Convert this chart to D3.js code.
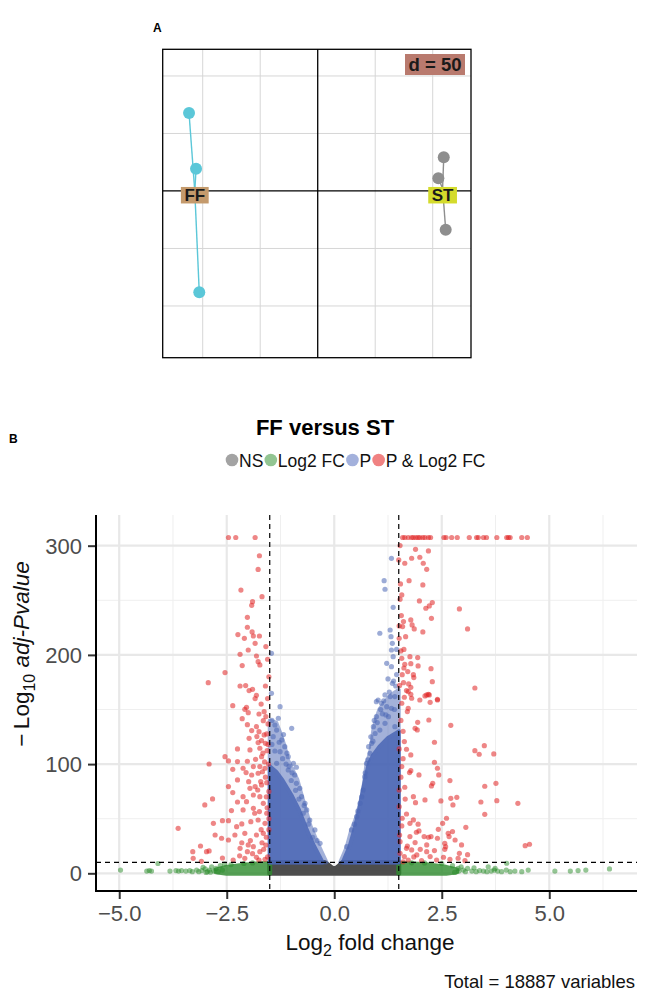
<!DOCTYPE html>
<html><head><meta charset="utf-8">
<script src="https://cdn.jsdelivr.net/npm/d3@7"></script>
<style>body{margin:0;background:#fff}svg{display:block;font-family:"Liberation Sans",Arial,Helvetica,sans-serif}</style>
</head><body><svg id="c" width="645" height="995"></svg>
<script>
// ---------- Panel A data (PCA class plot) ----------
const groupNames = ["FF", "ST"];
const ffX = [-111.9, -105.8, -103.0];
const ffY = [67.8, 19.4, -88.1];
const stX = [109.6, 104.9, 111.3];
const stY = [29.3, 11.0, -33.7];
const gridStep = 50;
const gridLabel = "d = 50";

// ---------- Panel B data (volcano) ----------
const plotTitle = "FF versus ST";
const legendLabels = ["NS", "Log2 FC", "P", "P & Log2 FC"];
const xTicks = [-5.0, -2.5, 0.0, 2.5, 5.0];
const yTicks = [0, 100, 200, 300];
const fcCutoff = 1.5;
const pCutoff = 10;
const capValue = 307.5;
const totalVars = 18887;

const redCapX = [-2.46,-2.29,-1.84,1.59,1.64,1.72,1.80,1.84,1.90,1.95,1.99,2.06,2.11,2.19,2.24,2.55,2.60,2.73,2.86,3.14,3.31,3.35,3.47,3.54,3.78,4.01,4.05,4.09,4.36,4.49];

const redLeft = [[-1.74,290.8],[-1.77,278.3],[-2.17,259.4],[-1.68,253.3],[-1.90,248.7],[-1.92,245.4],
[-2.02,234.4],[-2.24,218.6],[-2.02,225.3],[-1.91,221],[-1.88,217.3],[-2.09,215.2],[-1.74,217.3],[-1.84,210.6],[-2.0,204.5],[-1.59,207.6],[-2.19,200.5],[-1.81,199],[-1.55,196],[-1.77,193.8],[-1.73,190.8],[-2.14,190.2],[-2.54,183.8],[-2.93,174.6],[-2.19,171.5],[-2.06,171.9],[-1.98,167.3],[-1.90,168.5],[-1.81,163],[-1.60,171.5],[-1.84,160],[-2.36,153.5],[-2.04,152],[-2.08,150.2],[-2.0,147.1],[-1.75,145.9],[-1.63,148],[-2.14,141.6],[-1.59,143.5],[-1.65,139.8],[-1.54,136.8],[-2.02,136.1],[-1.81,134.3],[-1.92,130.7],[-1.75,129.7],[-1.63,126.7],[-1.57,127.6],[-1.80,125.2],[-1.98,123.6],[-1.69,121.5],[-1.77,119.7],[-1.60,119],[-2.25,113.9],[-1.96,113],[-1.73,114.5],[-1.56,112.3],[-2.54,106.8],[-2.46,102.9],[-2.25,102.3],[-2.02,102.6],[-1.83,104.4],[-1.69,106.8],[-2.91,100.1],[-2.12,96.2],[-1.88,97.7],[-1.73,97.7],[-1.61,96.2],[-2.36,95.2],[-2.05,92.2],[-1.92,90],[-1.77,91.6],[-2.25,85.5],[-1.99,83.9],[-1.84,79.4],[-1.69,80.9],[-1.57,83],[-2.46,79.4],[-1.96,77.8],[-1.78,76.3],[-2.36,73.9],[-2.12,70.2],[-1.88,71.7],[-1.73,70.2],[-2.83,68.1],[-3.01,62.6],[-2.25,65.3],[-2.04,65.6],[-1.65,64.1],[-2.39,57.4],[-2.12,58],[-1.88,59.5],[-1.74,56.5],[-1.57,55],[-2.81,45.8],[-2.60,48.2],[-2.46,48.2],[-2.27,42.7],[-2.15,45.2],[-1.94,47.3],[-1.77,48.8],[-1.61,45.8],[-3.63,41.2],[-2.77,35.1],[-2.62,32.1],[-2.46,30.5],[-2.31,35.1],[-2.08,36.6],[-1.81,35.1],[-1.65,36.6],[-3.11,25],[-2.91,20.5],[-3.29,19.8],[-2.19,22.9],[-2.02,19.8],[-1.88,24.4],[-1.73,19.8],[-1.59,25.9],[-3.28,13.7],[-2.35,12.2],[-2.08,13.7],[-1.81,14.6],[-1.61,12.8],
[-1.55,15],[-1.68,28],[-1.95,30],[-2.2,16],[-1.7,40],[-1.9,18],[-2.0,26],[-1.58,33],[-1.64,22],[-2.6,14],[-2.97,19.8],[-3.09,11],[-1.75,12],[-2.15,28],[-1.52,50],[-1.52,75],[-1.53,100],[-1.55,160],[-1.52,180],[-1.56,60],[-1.6,88],[-1.66,110],[-1.7,155],[-1.62,102],[-1.67,93],[-1.58,70],[-1.85,55],[-1.52,40],[-1.54,118],[-1.71,84]];

const redRight = [[1.53,300.1],[1.89,296.7],[2.19,295.2],[1.50,287],[1.80,288.5],[1.99,289.4],[1.64,283.9],[2.07,283.9],[2.15,278.4],[1.74,268],[2.06,264.1],[1.57,254.9],[1.53,250.9],[1.98,249.4],[2.28,247.9],[2.21,244.8],[2.13,242.7],[2.91,242.1],[2.26,233.5],[1.78,232],[1.61,230.5],[1.51,226.5],[1.59,225.9],[1.81,227.4],[1.86,223.8],[2.06,221],[3.10,223.8],[1.66,216.7],[1.51,215.2],[1.55,203.6],[1.76,198.4],[1.94,197.5],[1.57,196.9],[1.64,191.4],[1.78,192],[1.95,189.9],[2.25,187.4],[1.71,184.7],[1.84,181.9],[1.58,181.9],[1.85,179.2],[2.28,175.5],[1.61,174.6],[1.73,173.4],[1.78,170.3],[3.27,169.7],[1.68,167.3],[2.19,163.9],[2.11,162.4],[1.78,163.9],[2.40,159.4],
[1.72,166.4],[1.63,161.2],[1.80,160.3],[1.99,158.7],[2.15,163.3],[2.21,163.3],[2.40,158.7],[2.23,156.6],[1.57,155.7],[1.72,151.1],[1.70,148.1],[1.94,138.3],[2.20,140.4],[1.88,132.8],[1.93,131.3],[2.71,135.5],[1.63,120.6],[1.51,113.9],[1.68,113.6],[1.78,108.4],[2.33,120],[3.27,112.3],[3.37,109],[3.49,116.9],[3.71,109.3],[2.33,101.7],[1.57,97.7],[2.40,96.2],[1.78,94],[1.75,92.2],[1.97,90.1],[2.43,90.1],[2.69,84.9],[2.29,82.4],[2.26,80],[3.50,79.7],[3.76,82.4],[1.64,78.8],[1.51,76.3],[1.84,70.2],[2.11,67.2],[1.89,64.7],[2.48,66.3],[2.71,68.7],[2.85,69.6],[2.76,62.6],[3.41,65.3],[3.78,66.5],[4.27,64.1],[3.50,54],[1.51,61],[1.68,54.3],[1.58,50.4],[1.84,48.9],[1.76,45.8],[2.61,50.4],[2.52,45.8],[3.06,42.1],[2.42,40.3],[1.57,43.4],[1.91,37.6],[1.97,38.8],[1.76,33.6],[2.09,33.6],[2.19,33],[2.25,33.6],[2.40,32.1],[2.65,36.6],[2.75,38.2],[2.67,33.6],[2.81,30.5],[1.53,29],[1.88,28.1],[2.15,26],[2.57,27.5],[2.59,24.4],[2.96,26],[4.44,25.3],[4.54,26.6],[1.68,22.9],[1.80,21.4],[2.15,19.8],[2.33,20.8],[2.57,22],[2.91,18.3],[1.53,18.3],[1.63,15.3],[1.92,16.8],[2.23,15.3],[2.54,14.7],[2.69,12.8],[2.88,13.8],[3.10,17.1],[1.72,12.2],[2.03,11.6],[2.38,12.2],[3.04,11.6],
[1.55,140],[1.6,130],[1.52,172],[1.56,236],[1.62,205],[1.54,265],[1.6,105],[1.55,88],[1.65,68],[1.52,35],[1.7,25],[1.6,10.5],[1.85,15],[2.0,22],[1.95,45],[1.62,188]];

const blueLeft = [[-1.46,201.4],[-1.46,164.8],[-1.26,152.6],[-0.99,132.8],[-0.88,97.1],[-1.38,135.8],[-1.34,131.2],[-1.42,125.1],[-1.22,122.1],[-1.15,116],[-1.26,111.4],[-1.07,106.8],[-0.95,100.7],[-1.34,100.7],[-1.07,94.6],[-0.88,82.4],[-0.80,77.8],[-0.76,70.2],[-0.68,64.1],[-0.64,58],[-0.57,48.8],[-0.45,39.7],[-0.33,27.5],[-1.45,140],[-1.3,142],[-1.18,127],[-1.45,118],[-1.1,110],[-0.92,90],[-1.0,85],
[-1.2,105],[-1.05,98],[-0.9,76],[-0.72,55],[-0.6,45],[-0.5,33],[-1.38,112],[-1.28,120],[-0.82,68],[-0.98,92],[-1.12,100],[-0.7,62],[-0.4,30]];

const blueRight = [[1.33,288.4],[1.16,268],[1.18,260.1],[1.37,243.6],[1.06,219.8],[1.30,222.8],[1.32,216.7],[1.35,210.6],[1.33,204.5],[1.37,198.4],[1.22,192.3],[1.33,189.2],[1.35,174],[1.43,171.5],[1.18,163.3],[1.02,158.7],[0.98,157.2],[1.10,155.7],[1.30,161.8],[1.41,161.8],[1.22,152.6],[1.33,151.1],[1.26,143.4],[1.18,137.3],[0.98,143.4],[0.91,134.3],[1.06,131.2],[1.41,134.3],[0.87,119],[0.83,109.9],[0.75,100.7],[0.71,88.5],[0.67,76.3],[0.60,64.1],[0.52,51.9],[0.40,39.7],[0.29,24.4],[1.45,182],[1.4,150],[1.12,146],[0.95,128],[1.25,178],[0.8,116],[1.45,205],
[0.85,125],[0.93,140],[1.08,150],[1.15,158],[1.28,166],[1.38,176],[0.78,104],[0.72,92],[0.64,70],[0.55,57],[0.47,45],[1.0,138],[1.2,145],[0.9,121]];

// density envelopes of the dense clouds
const blueLeftOuter = [[-1.5,10],[-1.5,140],[-1.35,138],[-1.25,128],[-1.15,116],[-1.08,104],[-0.86,86],[-0.76,72],[-0.55,43],[-0.38,27],[-0.18,10]];
const blueLeftCore = [[-1.5,10],[-1.5,98],[-1.35,93],[-1.2,85],[-1.0,72],[-0.82,58],[-0.64,40],[-0.47,25],[-0.27,10]];
const blueRightOuter = [[0.14,10],[0.29,24],[0.40,40],[0.52,52],[0.60,64],[0.67,76],[0.71,88],[0.75,100],[0.83,110],[0.87,119],[0.91,132],[0.98,142],[1.05,150],[1.2,158],[1.35,164],[1.5,168],[1.5,10]];
const blueRightCore = [[0.2,10],[0.36,25],[0.48,42],[0.58,58],[0.66,75],[0.73,88],[0.8,100],[0.9,108],[1.05,116],[1.25,124],[1.5,130],[1.5,10]];
const greyBand = [[-1.5,0],[1.5,0],[1.5,10],[0.2,10],[0.12,7],[0.04,4.5],[-0.04,4.5],[-0.12,7],[-0.22,10],[-1.5,10]];
const greenLeftBand = [[-2.75,1.5],[-2.5,0],[-1.5,0],[-1.5,9],[-1.8,8.5],[-2.2,7],[-2.55,5],[-2.75,3]];
const greenRightBand = [[1.5,0],[2.6,0],[2.85,1.5],[2.85,3],[2.6,5.5],[2.1,8],[1.5,9]];
const greenPts = [[-4.97,3],[-4.36,2],[-4.30,2.5],[-4.25,2],[-4.1,9],[-3.82,2],[-3.68,2.5],[-3.62,2],[-3.55,2.5],[-3.45,2],[-3.36,2.5],[-3.3,1.5],[-3.2,3],[-3.15,1.5],[-3.08,2.5],[-3.0,4],[-2.95,1.5],[-2.9,3],[-2.85,6],[-2.8,2],[-2.75,4.5],[-2.7,1.5],[-2.65,7],[-2.6,3],[-2.55,8.5],[-2.4,8],[-2.1,9],[-1.9,9.5],[-3.05,5.5],[-2.98,0.8],[-2.88,1],
[2.9,2],[2.95,6],[3.0,3],[3.05,1.5],[3.1,4.5],[3.2,2],[3.25,5],[3.3,1.5],[3.38,2.5],[3.47,2],[3.55,1.5],[3.58,6],[3.65,2],[3.72,3],[3.74,4.5],[3.8,2],[3.89,1.5],[4.0,3],[4.01,9.2],[4.09,1.5],[4.2,2],[4.36,1.5],[4.51,3],[5.13,2],[5.49,2],[5.67,2.5],[5.85,3],[6.40,4],[2.5,9],[2.1,9.5],[1.8,9.6],[2.75,7],[2.88,4.5],[2.8,0.8]];

// ---------- drawing ----------
const svg = d3.select("#c");
const font = '"Liberation Sans",Arial,Helvetica,sans-serif';

// ===== Panel A =====
const ax = d3.scaleLinear().domain([-134.8, 133.3]).range([162.7, 471]);
const ay = d3.scaleLinear().domain([-145, 123.2]).range([357.7, 49.3]);
const gA = svg.append("g");
svg.append("text").attr("x", 153).attr("y", 32).attr("font-weight", "bold").attr("font-size", 12).text("A");
const gxs = d3.range(-100, 101, gridStep).filter(v => v !== 0);
gA.selectAll("line.gx").data(gxs).join("line").attr("x1", d => ax(d)).attr("x2", d => ax(d))
  .attr("y1", ay.range()[1]).attr("y2", ay.range()[0]).attr("stroke", "#d6d6d6").attr("stroke-width", 1);
gA.selectAll("line.gy").data(gxs).join("line").attr("y1", d => ay(d)).attr("y2", d => ay(d))
  .attr("x1", ax.range()[0]).attr("x2", ax.range()[1]).attr("stroke", "#d6d6d6").attr("stroke-width", 1);
gA.append("line").attr("x1", ax(0)).attr("x2", ax(0)).attr("y1", ay.range()[1]).attr("y2", ay.range()[0]).attr("stroke", "#000").attr("stroke-width", 1.3);
gA.append("line").attr("y1", ay(0)).attr("y2", ay(0)).attr("x1", ax.range()[0]).attr("x2", ax.range()[1]).attr("stroke", "#000").attr("stroke-width", 1.3);
gA.append("rect").attr("x", ax.range()[0]).attr("y", ay.range()[1]).attr("width", ax.range()[1] - ax.range()[0])
  .attr("height", ay.range()[0] - ay.range()[1]).attr("fill", "none").attr("stroke", "#000").attr("stroke-width", 1.3);
// d = 50 label
gA.append("rect").attr("x", 405).attr("y", 54).attr("width", 60).attr("height", 21).attr("fill", "#B97A6E");
gA.append("text").attr("x", 435).attr("y", 71).attr("text-anchor", "middle").attr("font-size", 18.5).attr("font-weight", "bold").attr("fill", "#1a1a1a").text(gridLabel);

const groups = [
  {name: groupNames[0], xs: ffX, ys: ffY, col: "#5BC7D8", box: "#C49A6C"},
  {name: groupNames[1], xs: stX, ys: stY, col: "#8E8E8E", box: "#D4DB2C"}
];
groups.forEach(g => {
  const cx = d3.mean(g.xs), cy = d3.mean(g.ys);
  g.xs.forEach((x, i) => {
    gA.append("line").attr("x1", ax(cx)).attr("y1", ay(cy)).attr("x2", ax(x)).attr("y2", ay(g.ys[i]))
      .attr("stroke", g.col).attr("stroke-width", 1.4);
  });
  g.xs.forEach((x, i) => {
    gA.append("circle").attr("cx", ax(x)).attr("cy", ay(g.ys[i])).attr("r", 6).attr("fill", g.col);
  });
  const ly = ay(0) + 4;
  const t = gA.append("text").attr("x", ax(cx)).attr("y", ly + 6.5).attr("text-anchor", "middle")
    .attr("font-size", 17).attr("font-weight", "bold").attr("fill", "#1a1a1a").text(g.name);
  const w = t.node().getComputedTextLength();
  gA.append("rect").attr("x", ax(cx) - w / 2 - 3.5).attr("y", ly - 8).attr("width", w + 7).attr("height", 16.5).attr("fill", g.box);
  t.raise();
});

// ===== Panel B =====
const L = 96, R = 637, T = 515, B = 891;
const x = d3.scaleLinear().domain([-5.54, 7.04]).range([L, R]);
const y = d3.scaleLinear().domain([-16.2, 328.1]).range([B, T]);
const gB = svg.append("g");

svg.append("text").attr("x", 9).attr("y", 443).attr("font-weight", "bold").attr("font-size", 12).text("B");
svg.append("text").attr("x", 325).attr("y", 435).attr("text-anchor", "middle").attr("font-weight", "bold").attr("font-size", 22).text(plotTitle);

// legend
const legCols = ["#A3A3A3", "#92C592", "#A3B1DC", "#F08282"];
let lx = 232;
legendLabels.forEach((lab, i) => {
  svg.append("circle").attr("cx", lx).attr("cy", 460).attr("r", 6.3).attr("fill", legCols[i]);
  const t = svg.append("text").attr("x", lx + 7).attr("y", 466.5).attr("font-size", 17.5).attr("fill", "#111").text(lab);
  lx = lx + 7 + t.node().getComputedTextLength() + 7.5;
});

// grid
const minorX = [-3.75, -1.25, 1.25, 3.75, 6.25];
const minorY = [50, 150, 250];
gB.selectAll("line.mx").data(minorX).join("line").attr("x1", d => x(d)).attr("x2", d => x(d)).attr("y1", T).attr("y2", B).attr("stroke", "#efefef").attr("stroke-width", 1);
gB.selectAll("line.my").data(minorY).join("line").attr("y1", d => y(d)).attr("y2", d => y(d)).attr("x1", L).attr("x2", R).attr("stroke", "#efefef").attr("stroke-width", 1);
gB.selectAll("line.Mx").data(xTicks).join("line").attr("x1", d => x(d)).attr("x2", d => x(d)).attr("y1", T).attr("y2", B).attr("stroke", "#e8e8e8").attr("stroke-width", 2.2);
gB.selectAll("line.My").data(yTicks).join("line").attr("y1", d => y(d)).attr("y2", d => y(d)).attr("x1", L).attr("x2", R).attr("stroke", "#e8e8e8").attr("stroke-width", 2.2);

// dense envelopes
const poly = d3.line().x(d => x(d[0])).y(d => y(d[1])).curve(d3.curveLinearClosed);
function blob(data, col, op, sw) {
  const g = gB.append("g").attr("opacity", op);
  g.append("path").attr("d", poly(data)).attr("fill", col).attr("stroke", col).attr("stroke-width", sw).attr("stroke-linejoin", "round");
}
blob(greyBand, "#4D4D4D", 1, 5);
blob(greenLeftBand, "#2E8B2E", 0.8, 5);
blob(greenRightBand, "#2E8B2E", 0.8, 5);
blob(blueLeftOuter, "#4A66B5", 0.5, 4);
blob(blueLeftCore, "#4A66B5", 0.85, 4);
blob(blueRightOuter, "#4A66B5", 0.5, 4);
blob(blueRightCore, "#4A66B5", 0.85, 4);

// points
function pts(data, col, op) {
  gB.append("g").selectAll("circle").data(data).join("circle")
    .attr("cx", d => x(d[0])).attr("cy", d => y(d[1])).attr("r", 2.6).attr("fill", col).attr("fill-opacity", op);
}
pts(greenPts, "#2A8C2A", 0.5);
pts(blueLeft, "#4A66B5", 0.55);
pts(blueRight, "#4A66B5", 0.55);
pts(redLeft, "#E02222", 0.55);
pts(redRight, "#E02222", 0.55);
pts(redCapX.map(v => [v, capValue]), "#E02222", 0.55);

// cutoff lines
[-fcCutoff, fcCutoff].forEach(v => gB.append("line").attr("x1", x(v)).attr("x2", x(v)).attr("y1", T).attr("y2", B)
  .attr("stroke", "#000").attr("stroke-width", 1.2).attr("stroke-dasharray", "5,4"));
gB.append("line").attr("x1", L).attr("x2", R).attr("y1", y(pCutoff)).attr("y2", y(pCutoff))
  .attr("stroke", "#000").attr("stroke-width", 1.2).attr("stroke-dasharray", "5,4");

// axes
const xAxis = d3.axisBottom(x).tickValues(xTicks).tickSize(8).tickPadding(6).tickFormat(d3.format(".1f"));
const yAxis = d3.axisLeft(y).tickValues(yTicks).tickSize(8).tickPadding(6).tickFormat(d3.format("d"));
const gx = svg.append("g").attr("transform", `translate(0,${B})`).call(xAxis);
const gy = svg.append("g").attr("transform", `translate(${L},0)`).call(yAxis);
[gx, gy].forEach(g => {
  g.select(".domain").remove();
  g.selectAll(".tick line").attr("stroke", "#333").attr("stroke-width", 2);
  g.selectAll(".tick text").attr("font-size", 22).attr("fill", "#4D4D4D").attr("font-family", font);
});
gy.selectAll(".tick text").attr("dy", "0.34em");
svg.append("line").attr("x1", L).attr("x2", L).attr("y1", T).attr("y2", B + 1).attr("stroke", "#000").attr("stroke-width", 2);
svg.append("line").attr("x1", L - 1).attr("x2", R).attr("y1", B).attr("y2", B).attr("stroke", "#000").attr("stroke-width", 2);

// axis titles
const xt = svg.append("text").attr("x", 370).attr("y", 950).attr("text-anchor", "middle").attr("font-size", 22.5).attr("fill", "#111");
xt.append("tspan").text("Log");
xt.append("tspan").attr("dy", 6).attr("font-size", 16).text("2");
xt.append("tspan").attr("dy", -6).text(" fold change");

const yt = svg.append("text").attr("transform", "translate(29,654) rotate(-90)").attr("text-anchor", "middle").attr("font-size", 22.5).attr("fill", "#111");
yt.append("tspan").text("\u2212\u2009Log");
yt.append("tspan").attr("dy", 6).attr("font-size", 16).text("10");
yt.append("tspan").attr("dy", -6).text(" ");
yt.append("tspan").attr("font-style", "italic").text("adj-Pvalue");

svg.append("text").attr("x", 635).attr("y", 988).attr("text-anchor", "end").attr("font-size", 18.5).attr("fill", "#111")
  .text(`Total = ${totalVars} variables`);
</script></body></html>
